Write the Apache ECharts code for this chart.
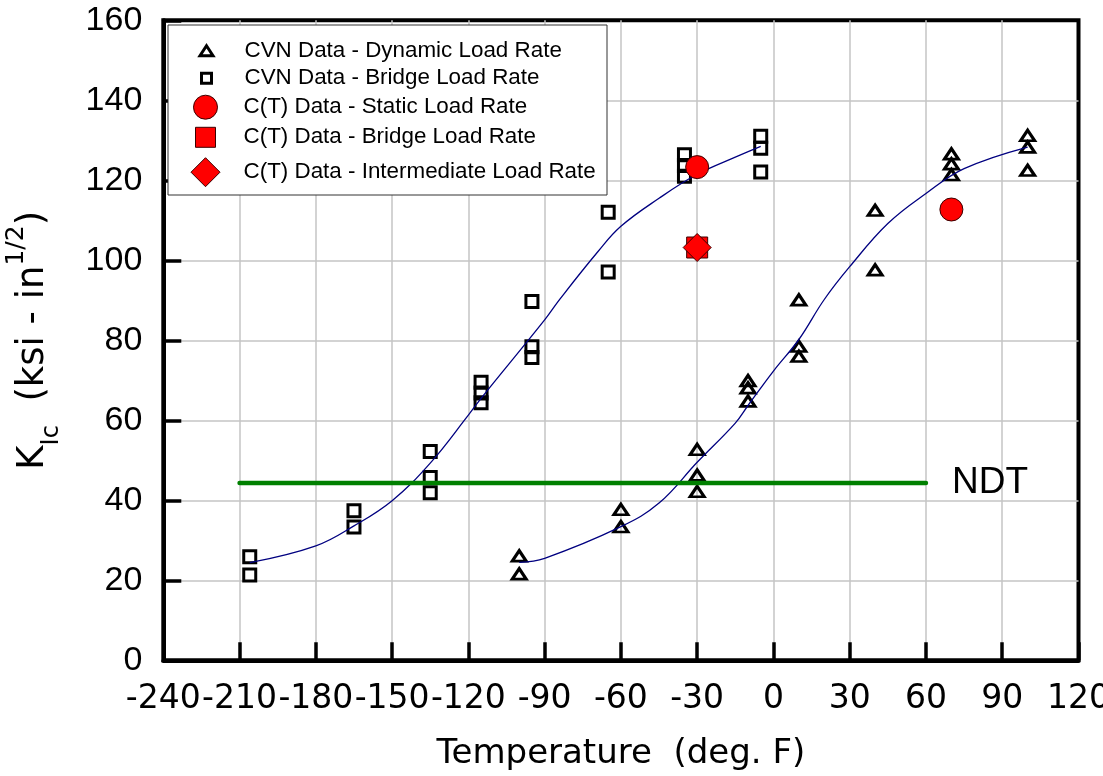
<!DOCTYPE html>
<html lang="en">
<head>
<meta charset="UTF-8">
<title>KIc vs Temperature</title>
<script src="https://cdn.jsdelivr.net/npm/echarts@6/dist/echarts.min.js"></script>
<style>
  html, body { margin: 0; padding: 0; background: #fff; }
  #main { width: 1103px; height: 776px; }
</style>
</head>
<body>
<div id="main"></div>
<script>
// series names, in legend order
var seriesNames = [
  'CVN Data - Dynamic Load Rate',
  'CVN Data - Bridge Load Rate',
  'C(T) Data - Static Load Rate',
  'C(T) Data - Bridge Load Rate',
  'C(T) Data - Intermediate Load Rate'
];

// CVN data, dynamic load rate (triangles)
var dynTemp = [-100, -100, -60, -60, -30, -30, -30, -10, -10, -10, 10, 10, 10, 40, 40, 70, 70, 70, 100, 100, 100];
var dynK = [26.1, 21.6, 37.7, 33.4, 52.7, 46.3, 42.2, 69.9, 68.1, 64.8, 90.1, 78.5, 76.0, 112.5, 97.6, 126.6, 124.1, 121.4, 131.2, 128.3, 122.5];

// CVN data, bridge load rate (squares)
var brTemp = [-206, -206, -165, -165, -135, -135, -135, -115, -115, -115, -95, -95, -95, -65, -65, -35, -35, -35, -5, -5, -5];
var brK = [25.9, 21.3, 37.4, 33.3, 52.2, 45.7, 41.9, 69.5, 66.8, 64.4, 89.7, 78.4, 75.7, 112.0, 97.1, 126.4, 123.7, 121.0, 131.0, 128.0, 122.1];

// C(T) data
var ctStaticTemp = [-30, 70];
var ctStaticK = [123.3, 112.7];
var ctBridgeTemp = [-30];
var ctBridgeK = [103.2];
var ctInterTemp = [-30];
var ctInterK = [103.2];

// fitted curves
var fitBrTemp = [-206, -180, -165, -150, -135, -120, -115, -90, -84, -69, -60, -45, -30, -15, -5];
var fitBrK = [24.4, 28.6, 33.6, 39.9, 49.3, 61.3, 65.5, 85.1, 90.3, 102.2, 108.5, 115.5, 121.5, 125.8, 128.5];
var fitDynTemp = [-100, -90, -60, -45, -30, -15, -10, 0, 10, 20, 30, 45, 60, 75, 100];
var fitDynK = [24.5, 25.5, 33.4, 39.3, 49.5, 59.3, 63.7, 72.3, 80.2, 90.2, 98.4, 109.2, 116.7, 122.9, 128.3];

// NDT line
var ndtTemp = [-210, 60];
var ndtK = [44.3, 44.3];

function pairs(xs, ys) {
  return xs.map(function (x, i) { return [x, ys[i]]; });
}

var chart = echarts.init(document.getElementById('main'));

var hollow = { color: 'rgba(0,0,0,0)', borderColor: '#000', borderWidth: 3, borderJoin: 'miter', opacity: 1 };
var redStyle = { color: '#ff0000', borderColor: '#3a0000', borderWidth: 1, opacity: 1 };

// one legend per row so each icon can have its own size
var legendRows = [
  { w: 13, h: 10, bw: 3, cy: 50.7 },
  { w: 10, h: 10, bw: 3, cy: 78.3 },
  { w: 24, h: 24, bw: 1, cy: 106.7 },
  { w: 20, h: 20, bw: 1, cy: 137.3 },
  { w: 29, h: 29, bw: 1, cy: 171.7 }
];
var legends = legendRows.map(function (r, i) {
  return {
    data: [seriesNames[i]],
    left: 205 - r.w / 2,
    top: r.cy - Math.max(r.h, 22) / 2,
    padding: 0,
    itemWidth: r.w,
    itemHeight: r.h,
    symbolKeepAspect: false,
    selectedMode: false,
    itemStyle: { borderWidth: r.bw, opacity: 1 },
    formatter: function (name) { return '{s|}{t|' + name + '}'; },
    textStyle: {
      fontFamily: 'Liberation Sans', fontSize: 22, color: '#000',
      rich: {
        s: { width: 33 - r.w / 2 },
        t: { fontFamily: 'Liberation Sans', fontSize: 22.4, color: '#000' }
      }
    }
  };
});

var option = {
  animation: false,
  backgroundColor: '#fff',
  grid: {
    left: 163.3, right: 24.5, top: 20.3, bottom: 115.7,
    outerBoundsMode: 'none', containLabel: false,
    show: true, borderColor: '#000', borderWidth: 4, backgroundColor: 'transparent'
  },
  graphic: [{
    type: 'rect', z: 3,
    shape: { x: 168, y: 25, width: 439, height: 170 },
    style: { fill: '#fff', stroke: '#333', lineWidth: 1 }
  }],
  legend: legends,
  xAxis: {
    type: 'value', min: -240, max: 120, interval: 30,
    name: 'Temperature  (deg. F)', nameLocation: 'middle', nameGap: 77,
    nameTextStyle: { fontFamily: 'DejaVu Sans', fontSize: 34, color: '#000' },
    axisLine: { onZero: false, lineStyle: { color: '#000', width: 4 } },
    axisTick: { inside: true, length: 18, lineStyle: { color: '#000', width: 3.5 } },
    axisLabel: { fontFamily: 'DejaVu Sans', fontSize: 33, color: '#000', margin: 23 },
    splitLine: { show: true, showMinLine: false, showMaxLine: false, lineStyle: { color: '#c4c4c4', width: 1.5 } }
  },
  yAxis: {
    type: 'value', min: 0, max: 160, interval: 20,
    name: '{m|K}{sub|Ic}{m|  (ksi - in}{sup|1/2}{m|)}',
    nameLocation: 'middle', nameGap: 100,
    nameTextStyle: {
      fontFamily: 'DejaVu Sans', color: '#000',
      rich: {
        m: { fontFamily: 'DejaVu Sans', fontSize: 37, lineHeight: 59, verticalAlign: 'middle', color: '#000' },
        sub: { fontFamily: 'DejaVu Sans', fontSize: 24, lineHeight: 24, verticalAlign: 'bottom', color: '#000' },
        sup: { fontFamily: 'DejaVu Sans', fontSize: 25, lineHeight: 36, verticalAlign: 'top', color: '#000' }
      }
    },
    axisLine: { onZero: false, lineStyle: { color: '#000', width: 4 } },
    axisTick: { inside: true, length: 18, lineStyle: { color: '#000', width: 3.5 } },
    axisLabel: { fontFamily: 'Liberation Sans', fontSize: 34, color: '#000', margin: 21 },
    splitLine: { show: true, showMinLine: false, showMaxLine: false, lineStyle: { color: '#c4c4c4', width: 1.5 } }
  },
  series: [
    {
      name: seriesNames[0], type: 'scatter', symbol: 'triangle', symbolSize: [14, 10.5],
      itemStyle: hollow, data: pairs(dynTemp, dynK), z: 3
    },
    {
      name: seriesNames[1], type: 'scatter', symbol: 'rect', symbolSize: 12,
      itemStyle: hollow, data: pairs(brTemp, brK), z: 3
    },
    {
      name: 'fit bridge', type: 'line', data: pairs(fitBrTemp, fitBrK),
      showSymbol: false, smooth: 0.4,
      lineStyle: { color: '#000080', width: 1.3 }, z: 4, silent: true
    },
    {
      name: 'fit dynamic', type: 'line', data: pairs(fitDynTemp, fitDynK),
      showSymbol: false, smooth: 0.4,
      lineStyle: { color: '#000080', width: 1.3 }, z: 4, silent: true
    },
    {
      name: 'NDT', type: 'line', data: pairs(ndtTemp, ndtK),
      showSymbol: false, lineStyle: { color: '#008000', width: 4.5, cap: 'round' }, z: 4, silent: true,
      endLabel: {
        show: true, formatter: 'NDT', distance: 26,
        fontFamily: 'Liberation Sans', fontSize: 37, color: '#000'
      }
    },
    {
      name: seriesNames[2], type: 'scatter', symbol: 'circle', symbolSize: 23,
      itemStyle: redStyle, data: pairs(ctStaticTemp, ctStaticK), z: 5
    },
    {
      name: seriesNames[3], type: 'scatter', symbol: 'rect', symbolSize: 21,
      itemStyle: redStyle, data: pairs(ctBridgeTemp, ctBridgeK), z: 5
    },
    {
      name: seriesNames[4], type: 'scatter', symbol: 'diamond', symbolSize: 28,
      itemStyle: redStyle, data: pairs(ctInterTemp, ctInterK), z: 6
    }
  ]
};

chart.setOption(option);
</script>
</body>
</html>
